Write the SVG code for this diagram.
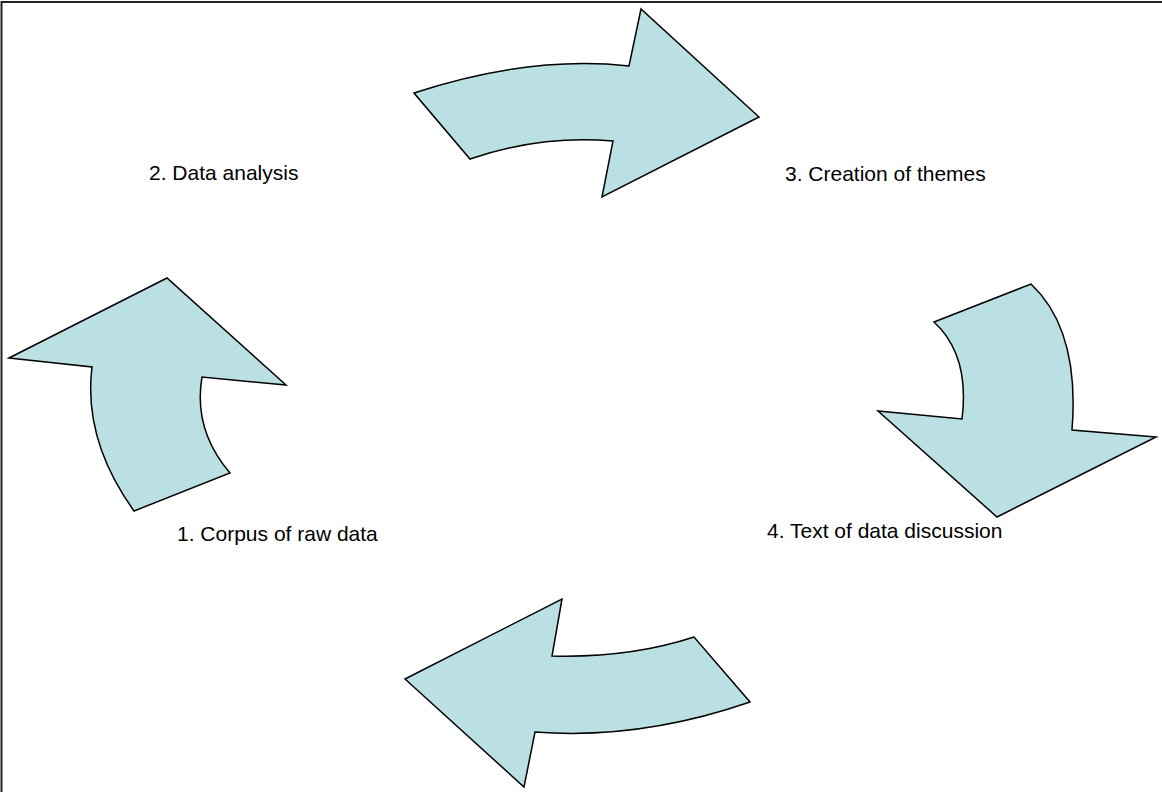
<svg xmlns="http://www.w3.org/2000/svg" width="1162" height="792" viewBox="0 0 1162 792">
<style>
.arrow{fill:#BBE0E3;stroke:#000;stroke-width:1.5;stroke-linejoin:miter}
.lbl{font-family:"Liberation Sans",Arial,sans-serif;font-size:21px;fill:#000}
</style>
<rect x="0" y="0" width="1162" height="792" fill="#fff"/>
<path d="M1.5,794 V2 H1164" fill="none" stroke="#222" stroke-width="2"/>
<g id="connectors">
<path id="arrow-top" class="arrow" d="M414,93 Q530,55 629,66 L641,9 L759,117 L602,197 L613,141 Q540,135 470,159 Z"/>
<path id="arrow-right" class="arrow" d="M934,322 L1031,284 Q1080,330 1072,430 L1156,437 L997,517 L878,411 L962,419 Q970,355 934,322 Z"/>
<path id="arrow-bottom" class="arrow" d="M562,599 L552,656 Q630,658 694,637 L750,702 Q640,740 535,732 L524,787 L405,679 Z"/>
<path id="arrow-left" class="arrow" d="M9,358 L167,278 L286,385 L202,377 Q193,430 230,473 L134,511 Q83,440 92,367 Z"/>
</g>
<g id="node1"><text class="lbl" x="177" y="541">1. Corpus of raw data</text></g>
<g id="node2"><text class="lbl" x="149" y="180">2. Data analysis</text></g>
<g id="node3"><text class="lbl" x="785" y="181">3. Creation of themes</text></g>
<g id="node4"><text class="lbl" x="767" y="538">4. Text of data discussion</text></g>
</svg>
